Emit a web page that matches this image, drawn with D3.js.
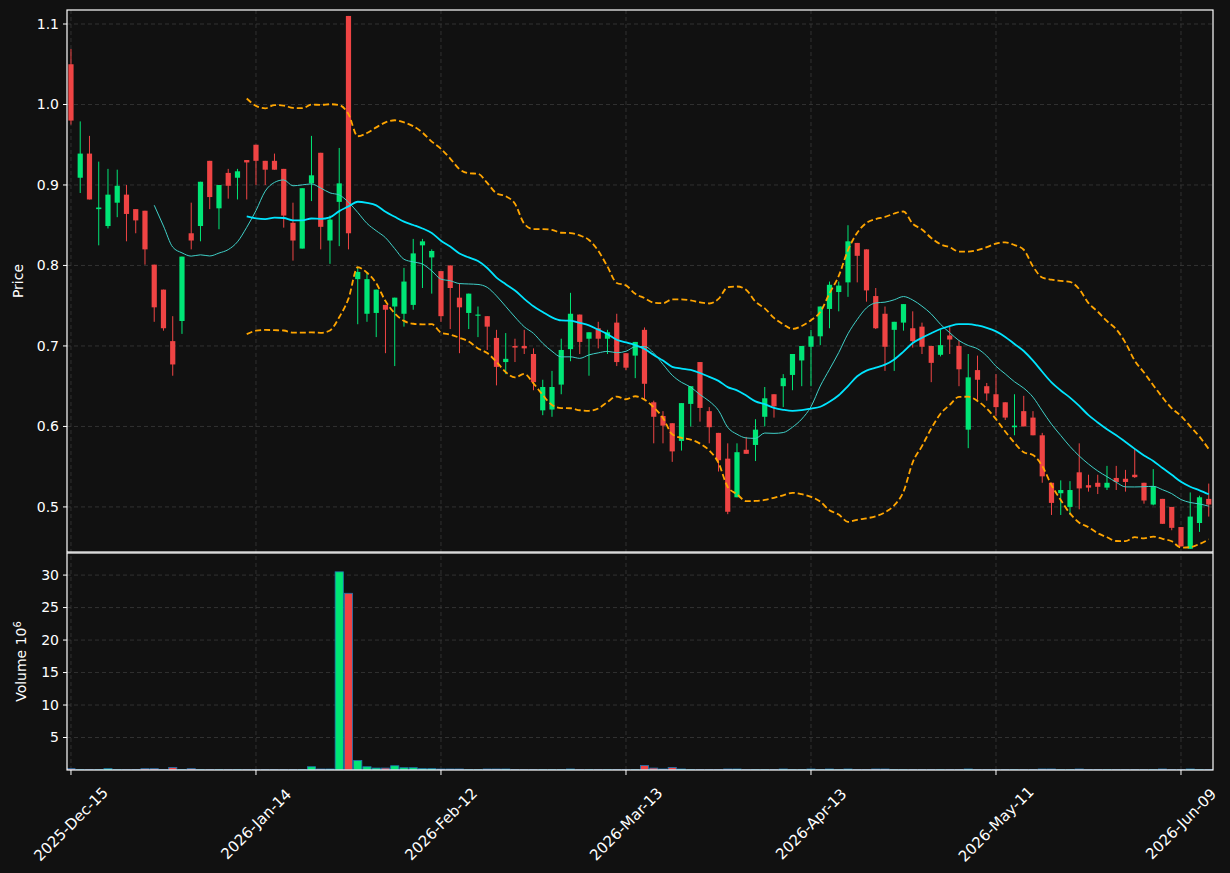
<!DOCTYPE html>
<html><head><meta charset="utf-8">
<script src="https://cdn.jsdelivr.net/npm/d3@7/dist/d3.min.js"></script>
<style>html,body{margin:0;padding:0;background:#111111;}svg{display:block;font-family:"DejaVu Sans",sans-serif;}</style>
</head><body><svg id="c" width="1230" height="873"></svg>
<script>
const opens  = [1.050,0.909,0.939,0.870,0.849,0.878,0.888,0.870,0.868,0.801,0.770,0.706,0.731,0.840,0.849,0.930,0.871,0.915,0.909,0.931,0.950,0.930,0.930,0.920,0.853,0.821,0.902,0.940,0.831,0.879,1.110,0.783,0.740,0.741,0.751,0.749,0.740,0.751,0.825,0.810,0.793,0.800,0.760,0.741,0.738,0.737,0.710,0.680,0.700,0.700,0.690,0.620,0.621,0.652,0.696,0.739,0.709,0.722,0.709,0.729,0.691,0.688,0.720,0.630,0.613,0.604,0.582,0.628,0.680,0.619,0.592,0.560,0.512,0.571,0.577,0.612,0.640,0.650,0.664,0.682,0.699,0.712,0.746,0.767,0.779,0.828,0.820,0.762,0.740,0.720,0.729,0.722,0.724,0.700,0.689,0.713,0.700,0.596,0.670,0.650,0.640,0.630,0.599,0.619,0.611,0.589,0.530,0.517,0.500,0.543,0.527,0.530,0.524,0.536,0.535,0.540,0.530,0.503,0.510,0.500,0.475,0.448,0.480,0.510];
const closes = [0.980,0.939,0.882,0.872,0.888,0.899,0.864,0.856,0.820,0.748,0.722,0.677,0.811,0.831,0.904,0.885,0.900,0.899,0.917,0.928,0.930,0.919,0.919,0.862,0.831,0.896,0.912,0.848,0.857,0.902,0.840,0.792,0.783,0.770,0.745,0.760,0.780,0.815,0.830,0.818,0.737,0.772,0.748,0.765,0.739,0.724,0.674,0.684,0.698,0.697,0.655,0.649,0.649,0.695,0.740,0.705,0.717,0.709,0.717,0.680,0.673,0.705,0.653,0.612,0.601,0.569,0.629,0.650,0.623,0.599,0.558,0.494,0.568,0.566,0.596,0.635,0.625,0.660,0.690,0.700,0.712,0.749,0.776,0.775,0.830,0.812,0.769,0.722,0.699,0.730,0.752,0.706,0.699,0.679,0.701,0.708,0.671,0.661,0.658,0.641,0.624,0.611,0.601,0.600,0.589,0.538,0.505,0.521,0.521,0.523,0.524,0.525,0.530,0.531,0.531,0.537,0.508,0.526,0.479,0.474,0.451,0.488,0.512,0.503];
const highs  = [1.069,0.979,0.961,0.929,0.920,0.919,0.900,0.870,0.868,0.801,0.770,0.737,0.811,0.878,0.904,0.930,0.900,0.920,0.920,0.931,0.950,0.930,0.939,0.920,0.878,0.896,0.961,0.940,0.862,0.946,1.110,0.798,0.792,0.770,0.751,0.760,0.797,0.833,0.833,0.820,0.793,0.800,0.778,0.765,0.749,0.737,0.720,0.716,0.709,0.720,0.697,0.658,0.669,0.709,0.766,0.739,0.717,0.730,0.720,0.740,0.691,0.705,0.723,0.632,0.619,0.604,0.629,0.650,0.680,0.624,0.592,0.579,0.579,0.587,0.609,0.649,0.640,0.665,0.690,0.700,0.720,0.749,0.780,0.780,0.850,0.828,0.820,0.772,0.749,0.730,0.752,0.743,0.729,0.700,0.720,0.724,0.707,0.690,0.688,0.654,0.665,0.630,0.640,0.638,0.619,0.592,0.530,0.533,0.532,0.579,0.540,0.540,0.551,0.551,0.546,0.572,0.530,0.547,0.510,0.500,0.475,0.518,0.514,0.529];
const lows   = [0.975,0.890,0.882,0.825,0.846,0.860,0.830,0.840,0.801,0.730,0.719,0.663,0.715,0.820,0.830,0.870,0.845,0.883,0.882,0.882,0.900,0.900,0.919,0.847,0.806,0.821,0.880,0.820,0.802,0.824,0.820,0.727,0.730,0.711,0.691,0.675,0.724,0.745,0.772,0.765,0.730,0.721,0.691,0.721,0.711,0.695,0.651,0.665,0.680,0.690,0.645,0.614,0.612,0.640,0.681,0.690,0.663,0.697,0.690,0.675,0.670,0.660,0.633,0.579,0.579,0.556,0.570,0.600,0.606,0.579,0.544,0.491,0.512,0.566,0.557,0.600,0.611,0.624,0.645,0.650,0.650,0.701,0.722,0.743,0.761,0.779,0.755,0.721,0.669,0.669,0.719,0.698,0.690,0.655,0.687,0.690,0.650,0.573,0.633,0.632,0.613,0.608,0.589,0.600,0.589,0.530,0.490,0.490,0.490,0.497,0.519,0.516,0.521,0.521,0.519,0.536,0.504,0.502,0.479,0.471,0.451,0.448,0.469,0.488];
const volumes = [0.2,0.05,0.05,0.05,0.2,0.05,0.05,0.05,0.2,0.2,0.05,0.4,0.05,0.2,0.05,0.05,0.05,0.05,0.05,0.05,0.05,0.05,0.05,0.05,0.05,0.05,0.5,0.15,0.15,30.5,27.2,1.45,0.5,0.3,0.3,0.65,0.35,0.35,0.2,0.2,0.15,0.15,0.15,0.05,0.05,0.15,0.15,0.15,0.05,0.05,0.05,0.05,0.05,0.05,0.15,0.05,0.05,0.05,0.05,0.05,0.05,0.05,0.7,0.3,0.15,0.4,0.15,0.05,0.05,0.05,0.05,0.15,0.15,0.05,0.05,0.05,0.05,0.15,0.05,0.05,0.15,0.05,0.15,0.05,0.15,0.05,0.05,0.15,0.15,0.05,0.05,0.05,0.05,0.05,0.05,0.05,0.05,0.15,0.05,0.05,0.05,0.05,0.05,0.05,0.05,0.15,0.15,0.05,0.05,0.15,0.05,0.05,0.05,0.05,0.05,0.05,0.05,0.05,0.15,0.05,0.05,0.15,0.05,0.05];
const tickIdx = [0,20,40,60,80,100,120];
const tickLabels = ["2025-Dec-15","2026-Jan-14","2026-Feb-12","2026-Mar-13","2026-Apr-13","2026-May-11","2026-Jun-09"];
const priceTicks = [0.5,0.6,0.7,0.8,0.9,1.0,1.1];
const volTicks = [5,10,15,20,25,30];

const UP="#00e676", DN="#ef4444";
const svg=d3.select("#c");
const L=67,R=1213,T1=10,B1=552,T2=553,B2=770;
const n=closes.length;
const x=d3.scaleLinear().domain([-0.43,n-0.54]).range([L,R]);
const y=d3.scaleLinear().domain([0.4440,1.1174]).range([B1,T1]);
const yv=d3.scaleLinear().domain([0,33.4]).range([B2,T2]);
const idx=d3.range(n);

const g=svg.append("g");
function grid(vals,sc){
  vals.forEach(v=>g.append("line").attr("x1",L).attr("x2",R).attr("y1",sc(v)).attr("y2",sc(v)).attr("stroke","#3a3a3a").attr("stroke-dasharray","4,3").attr("stroke-width",0.8));
}
grid(priceTicks,y);grid(volTicks,yv);
tickIdx.forEach(i=>{g.append("line").attr("x1",x(i)).attr("x2",x(i)).attr("y1",T1).attr("y2",B2).attr("stroke","#3a3a3a").attr("stroke-dasharray","4,3").attr("stroke-width",0.8);});

svg.append("clipPath").attr("id","cp1").append("rect").attr("x",L).attr("y",T1).attr("width",R-L).attr("height",B1-T1);
const pg=svg.append("g").attr("clip-path","url(#cp1)");

function sma(w){return idx.map(i=>i<w-1?null:d3.mean(closes.slice(i-w+1,i+1)));}
function sd(w){return idx.map(i=>i<w-1?null:d3.deviation(closes.slice(i-w+1,i+1))*Math.sqrt((w-1)/w));}
const ma10=sma(10), ma20=sma(20), s20=sd(20);
const up=ma20.map((m,i)=>m==null?null:m+2*s20[i]);
const lo=ma20.map((m,i)=>m==null?null:m-2*s20[i]);
const line=d3.line().defined(d=>d[1]!=null).x(d=>x(d[0])).y(d=>y(d[1])).curve(d3.curveMonotoneX);
const draw=(arr,col,w,dash)=>pg.append("path").attr("d",line(arr.map((v,i)=>[i,v]))).attr("fill","none").attr("stroke",col).attr("stroke-width",w).attr("stroke-dasharray",dash||null);

idx.forEach(i=>{
  const c=closes[i]>=opens[i]?UP:DN;
  pg.append("line").attr("x1",x(i)).attr("x2",x(i)).attr("y1",y(highs[i])).attr("y2",y(lows[i])).attr("stroke",c).attr("stroke-width",1);
  const t=y(Math.max(opens[i],closes[i])), b=y(Math.min(opens[i],closes[i]));
  pg.append("rect").attr("x",x(i)-2.6).attr("width",5.2).attr("y",t).attr("height",Math.max(b-t,1.2)).attr("fill",c);
});
draw(up,"#ffa500",1.8,"6,3");
draw(lo,"#ffa500",1.8,"6,3");
draw(ma10,"#3fd0c8",1,null);
draw(ma20,"#00e5ff",1.8,null);

svg.append("clipPath").attr("id","cp2").append("rect").attr("x",L).attr("y",T2).attr("width",R-L).attr("height",B2-T2);
const vg=svg.append("g").attr("clip-path","url(#cp2)");
idx.forEach(i=>{
  const c=closes[i]>=opens[i]?UP:DN;
  vg.append("rect").attr("x",x(i)-4.1).attr("width",8.2).attr("y",yv(volumes[i])).attr("height",B2-yv(volumes[i])).attr("fill",c).attr("stroke","#1f77b4").attr("stroke-width",0.8);
});

const ax=svg.append("g").attr("fill","none").attr("stroke","#ffffff").attr("stroke-width",1.2);
ax.append("rect").attr("x",L).attr("y",T1).attr("width",R-L).attr("height",B1-T1);
ax.append("rect").attr("x",L).attr("y",T2).attr("width",R-L).attr("height",B2-T2);

const tx=svg.append("g").attr("fill","#ffffff").attr("font-size",14);
priceTicks.forEach(v=>{
  svg.append("line").attr("x1",L-4).attr("x2",L).attr("y1",y(v)).attr("y2",y(v)).attr("stroke","#fff");
  tx.append("text").attr("x",L-8).attr("y",y(v)).attr("dy","0.35em").attr("text-anchor","end").text(d3.format(".1f")(v));
});
volTicks.forEach(v=>{
  svg.append("line").attr("x1",L-4).attr("x2",L).attr("y1",yv(v)).attr("y2",yv(v)).attr("stroke","#fff");
  tx.append("text").attr("x",L-8).attr("y",yv(v)).attr("dy","0.35em").attr("text-anchor","end").text(v);
});
tickIdx.forEach((t,k)=>{
  svg.append("line").attr("x1",x(t)).attr("x2",x(t)).attr("y1",B2).attr("y2",B2+5).attr("stroke","#fff");
  tx.append("text").attr("transform",`translate(${x(t)},${B2+54}) rotate(-45)`).attr("text-anchor","middle").attr("dy","0.35em").attr("font-size",15).text(tickLabels[k]);
});
tx.append("text").attr("transform",`translate(23,${(T1+B1)/2}) rotate(-90)`).attr("text-anchor","middle").attr("font-size",14).text("Price");
const vl=tx.append("text").attr("transform",`translate(26,${(T2+B2)/2}) rotate(-90)`).attr("text-anchor","middle").attr("font-size",14);
vl.append("tspan").text("Volume  10");
vl.append("tspan").attr("dy","-0.5em").attr("font-size",10).text("6");
</script></body></html>
